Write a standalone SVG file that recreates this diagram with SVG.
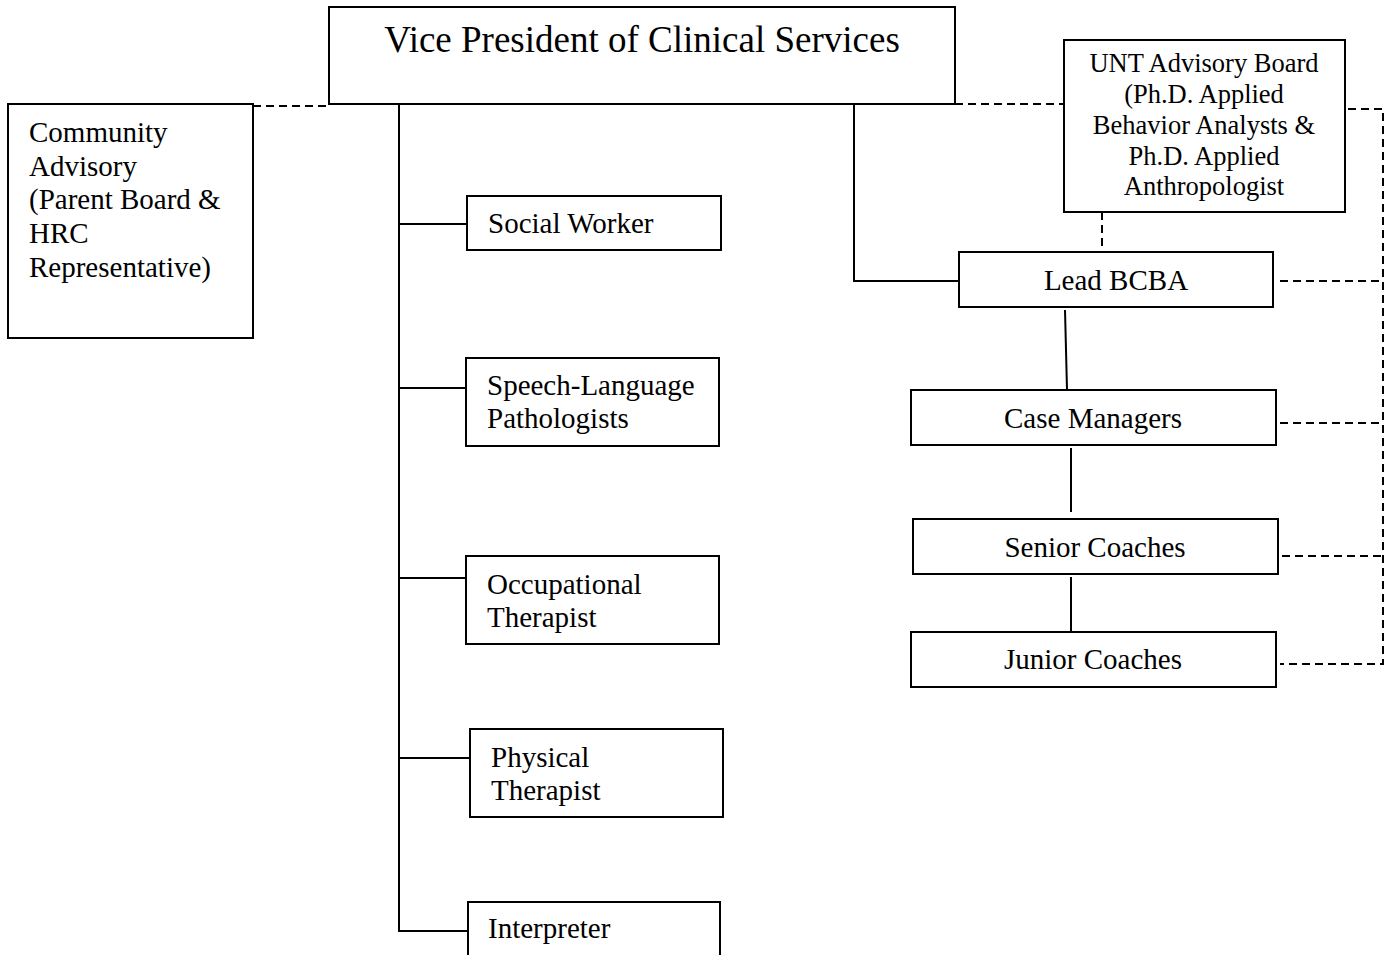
<svg xmlns="http://www.w3.org/2000/svg" width="1394" height="955" viewBox="0 0 1394 955">
<style>
.box{fill:#fff;stroke:#000;stroke-width:2}
.t{font-family:"Liberation Serif","Times New Roman",serif;font-size:29px;fill:#000}
.c{text-anchor:middle}
.u{font-size:26.5px}
.big{font-size:37px}
.ln{fill:none;stroke:#000;stroke-width:2}
.dash{fill:none;stroke:#000;stroke-width:2;stroke-dasharray:8 5}
</style>
<rect width="1394" height="955" fill="#fff"/>
<g id="connectors">
<path class="dash" d="M253 106H329"/>
<path class="ln" d="M399 104V931H468"/>
<path class="ln" d="M399 224H467"/>
<path class="ln" d="M399 388H466"/>
<path class="ln" d="M399 578H466"/>
<path class="ln" d="M399 758H470"/>
<path class="ln" d="M854 104V281H958"/>
<path class="dash" d="M955 104H1063"/>
<path class="dash" d="M1102 212V252"/>
<path class="dash" d="M1348 109H1383V664H1280"/>
<path class="dash" d="M1280 281H1383"/>
<path class="dash" d="M1280 423H1383"/>
<path class="dash" d="M1282 556H1383"/>
<path class="ln" d="M1065 310L1067 390"/>
<path class="ln" d="M1071 448V512"/>
<path class="ln" d="M1071 577V632"/>
</g>
<g id="vp">
<rect class="box" x="329" y="7" width="626" height="97"/>
<text class="t big c" x="642" y="52">Vice President of Clinical Services</text>
</g>
<g id="community">
<rect class="box" x="8" y="104" width="245" height="234"/>
<text class="t" x="29" y="142">Community</text>
<text class="t" x="29" y="176">Advisory</text>
<text class="t" x="29" y="209">(Parent Board &amp;</text>
<text class="t" x="29" y="243">HRC</text>
<text class="t" x="29" y="277">Representative)</text>
</g>
<g id="social-worker">
<rect class="box" x="467" y="196" width="254" height="54"/>
<text class="t" x="488" y="233">Social Worker</text>
</g>
<g id="slp">
<rect class="box" x="466" y="358" width="253" height="88"/>
<text class="t" x="487" y="395">Speech-Language</text>
<text class="t" x="487" y="428">Pathologists</text>
</g>
<g id="ot">
<rect class="box" x="466" y="556" width="253" height="88"/>
<text class="t" x="487" y="594">Occupational</text>
<text class="t" x="487" y="627">Therapist</text>
</g>
<g id="pt">
<rect class="box" x="470" y="729" width="253" height="88"/>
<text class="t" x="491" y="767">Physical</text>
<text class="t" x="491" y="800">Therapist</text>
</g>
<g id="interpreter">
<rect class="box" x="468" y="902" width="252" height="70"/>
<text class="t" x="488" y="938">Interpreter</text>
</g>
<g id="unt">
<rect class="box" x="1064" y="40" width="281" height="172"/>
<text class="t u c" x="1204" y="72">UNT Advisory Board</text>
<text class="t u c" x="1204" y="103">(Ph.D. Applied</text>
<text class="t u c" x="1204" y="134">Behavior Analysts &amp;</text>
<text class="t u c" x="1204" y="165">Ph.D. Applied</text>
<text class="t u c" x="1204" y="195">Anthropologist</text>
</g>
<g id="lead-bcba">
<rect class="box" x="959" y="252" width="314" height="55"/>
<text class="t c" x="1116" y="290">Lead BCBA</text>
</g>
<g id="case-managers">
<rect class="box" x="911" y="390" width="365" height="55"/>
<text class="t c" x="1093" y="428">Case Managers</text>
</g>
<g id="senior-coaches">
<rect class="box" x="913" y="519" width="365" height="55"/>
<text class="t c" x="1095" y="557">Senior Coaches</text>
</g>
<g id="junior-coaches">
<rect class="box" x="911" y="632" width="365" height="55"/>
<text class="t c" x="1093" y="669">Junior Coaches</text>
</g>
</svg>
